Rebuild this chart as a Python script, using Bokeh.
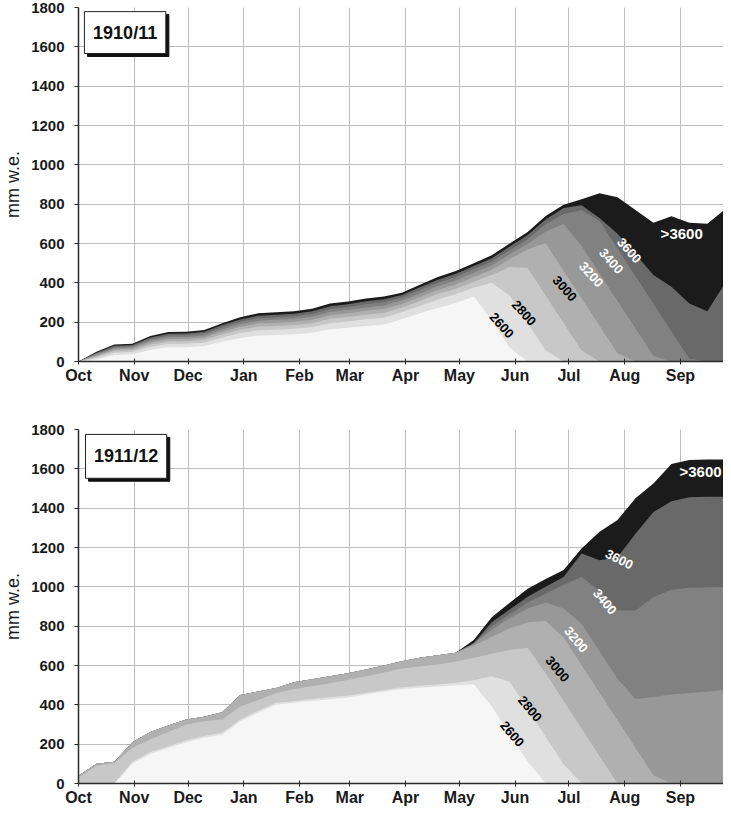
import math
from bokeh.plotting import figure
from bokeh.layouts import column
from bokeh.models import ColumnDataSource, FixedTicker, BoxAnnotation, Label, Range1d
from bokeh.core.properties import value
from bokeh.embed import file_html
from bokeh.resources import INLINE

FONT = "Liberation Sans"

# ---------------- data ----------------
DAYS = list(range(0, 361, 10))          # days since 1 October
MONTH_DAYS = [0, 31, 61, 92, 123, 151, 182, 212, 243, 273, 304, 335]
MONTH_NAMES = ["Oct", "Nov", "Dec", "Jan", "Feb", "Mar", "Apr", "May", "Jun", "Jul", "Aug", "Sep"]
MM_TICKS = [0, 200, 400, 600, 800, 1000, 1200, 1400, 1600, 1800]

BANDS = [">3600", "3600", "3400", "3200", "3000", "2800", "2600", "<2600"]
BAND_COLORS = ["#1b1b1b", "#696969", "#818181", "#989898", "#b0b0b0", "#c8c8c8", "#e0e0e0", "#f6f6f6"]

# 1910/11 snow water equivalent (mm w.e.) per elevation band
Y1911_GT3600 = [0, 50, 86, 90, 130, 150, 151, 160, 195, 225, 245, 250, 255, 268, 295, 305, 320, 330, 350, 390,
                430, 460, 500, 540, 600, 658, 740, 797, 825, 855, 835, 770, 705, 738, 705, 700, 775]
Y1911_3600 = [0, 45, 80, 84, 122, 141, 142, 151, 185, 214, 233, 238, 243, 255, 281, 291, 306, 316, 338, 377,
              416, 446, 486, 525, 585, 643, 722, 780, 795, 730, 650, 545, 440, 380, 295, 255, 400]
Y1911_3400 = [0, 41, 74, 78, 114, 132, 133, 142, 174, 202, 220, 225, 230, 242, 267, 277, 291, 301, 325, 362,
              400, 430, 470, 508, 567, 622, 698, 750, 770, 714, 574, 434, 294, 154, 14, 0, 0]
Y1911_3200 = [0, 36, 68, 72, 106, 123, 124, 132, 163, 190, 207, 212, 217, 228, 252, 262, 275, 285, 310, 346,
              383, 412, 451, 488, 545, 598, 660, 700, 588, 448, 308, 168, 28, 0, 0, 0, 0]
Y1911_3000 = [0, 31, 61, 65, 97, 113, 114, 122, 151, 177, 193, 197, 202, 212, 235, 245, 258, 267, 293, 328,
              364, 392, 430, 466, 520, 570, 602, 462, 322, 182, 42, 0, 0, 0, 0, 0, 0]
Y1911_2800 = [0, 25, 53, 57, 87, 102, 103, 110, 138, 162, 177, 181, 185, 195, 217, 226, 238, 247, 275, 308,
              343, 370, 406, 440, 480, 476, 336, 196, 56, 0, 0, 0, 0, 0, 0, 0, 0]
Y1911_2600 = [0, 18, 44, 48, 75, 89, 90, 97, 122, 145, 158, 162, 166, 175, 195, 204, 215, 223, 250, 282,
              315, 342, 375, 400, 336, 196, 56, 0, 0, 0, 0, 0, 0, 0, 0, 0, 0]
Y1911_LOW = [0, 10, 33, 36, 60, 72, 73, 79, 101, 120, 132, 135, 138, 146, 164, 171, 181, 188, 215, 245,
             272, 298, 330, 210, 70, 0, 0, 0, 0, 0, 0, 0, 0, 0, 0, 0, 0]

# 1911/12
Y1912_GT3600 = [40, 100, 110, 210, 262, 295, 325, 340, 362, 450, 468, 485, 515, 530, 545, 560, 580, 600, 622, 640,
                652, 665, 730, 845, 919, 990, 1040, 1085, 1195, 1280, 1340, 1450, 1525, 1625, 1645, 1648, 1648]
Y1912_3600 = [40, 100, 110, 210, 262, 295, 325, 340, 362, 450, 468, 485, 515, 530, 545, 560, 580, 600, 622, 640,
              652, 665, 715, 820, 885, 950, 1000, 1050, 1170, 1135, 1150, 1270, 1380, 1435, 1455, 1458, 1458]
Y1912_3400 = [40, 100, 110, 210, 262, 295, 325, 340, 362, 450, 468, 485, 515, 530, 545, 560, 580, 600, 622, 640,
              652, 665, 712, 800, 860, 920, 965, 1010, 1050, 980, 880, 880, 948, 985, 995, 998, 1000]
Y1912_3200 = [40, 100, 110, 210, 262, 295, 325, 340, 362, 450, 468, 485, 515, 530, 545, 560, 580, 600, 622, 640,
              652, 665, 710, 780, 840, 890, 920, 890, 812, 672, 532, 430, 440, 452, 460, 468, 475]
Y1912_3000 = [40, 100, 110, 210, 262, 295, 325, 340, 362, 450, 468, 485, 515, 530, 545, 560, 580, 600, 622, 640,
              652, 665, 700, 745, 790, 820, 826, 742, 602, 462, 322, 182, 42, 0, 0, 0, 0]
Y1912_2800 = [30, 90, 103, 180, 225, 262, 300, 318, 324, 391, 425, 460, 480, 495, 510, 527, 545, 565, 585, 595,
              605, 620, 640, 660, 680, 690, 560, 420, 280, 140, 0, 0, 0, 0, 0, 0, 0]
Y1912_2600 = [0, 0, 0, 110, 160, 190, 220, 242, 258, 325, 370, 410, 420, 430, 438, 447, 462, 476, 490, 497,
              503, 512, 525, 545, 518, 378, 238, 98, 0, 0, 0, 0, 0, 0, 0, 0, 0]
Y1912_LOW = [0, 0, 0, 100, 150, 180, 210, 232, 248, 315, 360, 400, 410, 420, 428, 437, 452, 466, 480, 487,
             493, 500, 505, 392, 252, 112, 0, 0, 0, 0, 0, 0, 0, 0, 0, 0, 0]

# band labels (text, day, mm, angle in degrees)
LBL1911_TEXT = ["2600", "2800", "3000", "3200", "3400", "3600"]
LBL1911_DAY = [235.6, 248.0, 270.7, 285.4, 296.5, 306.6]
LBL1911_MM = [184, 247, 371, 443, 511, 565]
LBL1911_ANGLE = [-48, -48, -48, -48, -48, -48]
TOP1911 = (324, 650)

LBL1912_TEXT = ["2600", "2800", "3000", "3200", "3400", "3600"]
LBL1912_DAY = [241.4, 251.3, 266.6, 277.0, 293.0, 301.0]
LBL1912_MM = [252, 380, 582, 732, 925, 1140]
LBL1912_ANGLE = [-50, -50, -50, -50, -50, -27]
TOP1912 = (334.5, 1588)

LABEL_COLORS = ["black", "black", "black", "white", "white", "white"]


def make_panel(series, lbl_text, lbl_day, lbl_mm, lbl_angle, top_lbl, box, title, height, b_top, b_bottom):
    p = figure(width=723, height=height, x_range=Range1d(0, 359), y_range=Range1d(0, 1800),
               output_backend="svg", toolbar_location=None,
               min_border_left=74, min_border_right=0, min_border_top=b_top, min_border_bottom=b_bottom)
    p.outline_line_color = None
    p.background_fill_color = "white"
    p.border_fill_color = "white"

    data = {"day": DAYS}
    for i, s in enumerate(series):
        data["b%d" % i] = s
    src = ColumnDataSource(data)
    for i, col in enumerate(BAND_COLORS):
        p.varea(x="day", y1=0, y2="b%d" % i, source=src, fill_color=col, fill_alpha=1.0)

    lsrc = ColumnDataSource(dict(x=lbl_day, y=lbl_mm, text=lbl_text,
                                 angle=[math.radians(a) for a in lbl_angle], color=LABEL_COLORS))
    p.text(x="x", y="y", text="text", angle="angle", text_color="color", source=lsrc,
           text_font=value(FONT), text_font_style="bold", text_font_size="13px",
           text_align="center", text_baseline="middle")
    p.text(x=[top_lbl[0]], y=[top_lbl[1]], text=[">3600"], text_color="white",
           text_font=value(FONT), text_font_style="bold", text_font_size="15px",
           text_align="left", text_baseline="middle")

    # axes
    xt = FixedTicker(ticks=MONTH_DAYS)
    yt = FixedTicker(ticks=MM_TICKS)
    p.xaxis.ticker = xt
    p.yaxis.ticker = yt
    p.xgrid.ticker = xt
    p.ygrid.ticker = yt
    p.xaxis.major_label_overrides = {d: m for d, m in zip(MONTH_DAYS, MONTH_NAMES)}
    for ax in (p.xaxis, p.yaxis):
        ax.axis_line_color = "#2a2a2a"
        ax.axis_line_width = 1.5
        ax.major_tick_line_color = "#2a2a2a"
        ax.minor_tick_line_color = None
        ax.major_label_text_font = FONT
        ax.major_label_text_font_style = "bold"
        ax.major_label_text_color = "#1a1a1a"
    p.xaxis.major_tick_in = 3
    p.xaxis.major_tick_out = 3
    p.xaxis.major_label_standoff = 2
    p.xaxis.major_label_text_font_size = "16px"
    p.yaxis.major_tick_in = 0
    p.yaxis.major_tick_out = 4
    p.yaxis.major_label_standoff = 10
    p.yaxis.major_label_text_font_size = "15px"
    p.yaxis.axis_label = "mm w.e."
    p.yaxis.axis_label_text_font = FONT
    p.yaxis.axis_label_text_font_style = "normal"
    p.yaxis.axis_label_text_font_size = "18px"
    p.yaxis.axis_label_text_color = "#1a1a1a"
    p.yaxis.axis_label_standoff = 5
    for g in (p.xgrid, p.ygrid):
        g.grid_line_color = "#bdbdbd"
        g.grid_line_width = 1

    # title box with drop shadow
    l, r, t, b = box
    dx, dy = 1.7, 15
    p.add_layout(BoxAnnotation(left=l + dx, right=r + dx, top=t - dy, bottom=b - dy,
                               fill_color="#111111", fill_alpha=1.0, line_color="#111111", line_alpha=1.0))
    p.add_layout(BoxAnnotation(left=l, right=r, top=t, bottom=b, fill_color="white", fill_alpha=1.0,
                               line_color="#222222", line_width=1, line_alpha=1.0))
    p.add_layout(Label(x=(l + r) / 2, y=(t + b) / 2, text=title, text_align="center", text_baseline="middle",
                       text_font=FONT, text_font_style="bold", text_font_size="18px", text_color="#111111"))
    return p


p1 = make_panel([Y1911_GT3600, Y1911_3600, Y1911_3400, Y1911_3200, Y1911_3000, Y1911_2800, Y1911_2600, Y1911_LOW],
                LBL1911_TEXT, LBL1911_DAY, LBL1911_MM, LBL1911_ANGLE, TOP1911,
                (3.3, 48.6, 1779, 1566), "1910/11", 411, 7, 50)
p2 = make_panel([Y1912_GT3600, Y1912_3600, Y1912_3400, Y1912_3200, Y1912_3000, Y1912_2800, Y1912_2600, Y1912_LOW],
                LBL1912_TEXT, LBL1912_DAY, LBL1912_MM, LBL1912_ANGLE, TOP1912,
                (3.9, 49.1, 1775, 1552), "1911/12", 397, 18, 24)

layout = column(p1, p2, spacing=0)
open("out.html", "w").write(file_html(layout, INLINE, title="Snow water equivalent"))
